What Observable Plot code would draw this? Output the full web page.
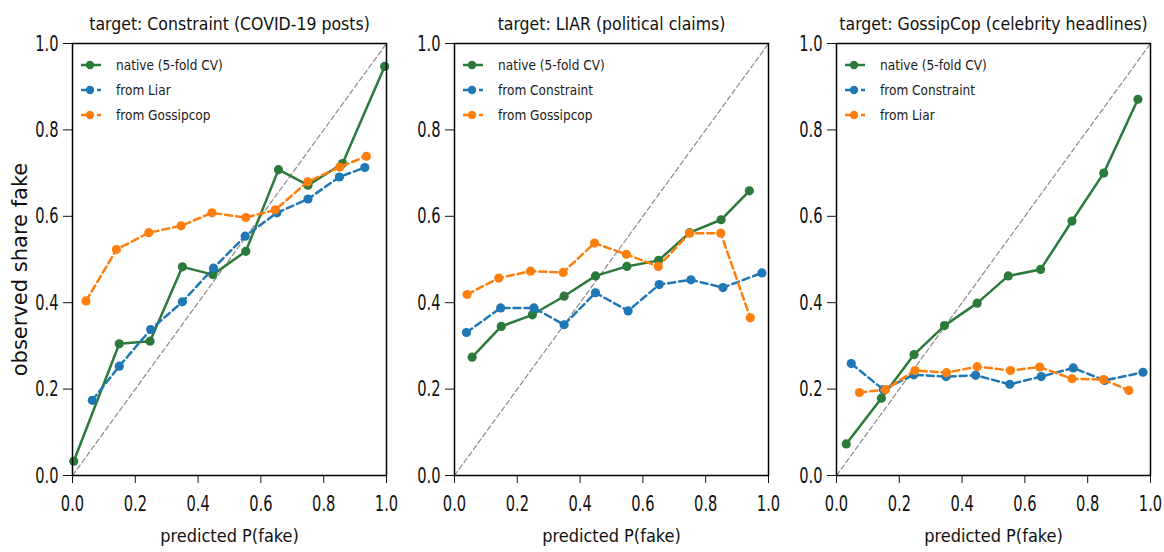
<!DOCTYPE html>
<html>
<head>
<meta charset="utf-8">
<script src="https://cdn.jsdelivr.net/npm/d3@7"></script>
<script src="https://cdn.jsdelivr.net/npm/@observablehq/plot@0.6"></script>
<style>
  html, body { margin: 0; padding: 0; background: #fff; }
  #wrap { position: relative; width: 1164px; height: 552px; overflow: hidden; background: #fff;
          font-family: "DejaVu Sans Condensed", "Liberation Sans Narrow", "DejaVu Sans", sans-serif; }
  .panel { position: absolute; top: 0; }
  .legend { position: absolute; font-size: 13.5px; color: #1a1a1a; }
  .legend .row { height: 25px; display: flex; align-items: center; white-space: nowrap; }
  .legend svg { display: block; margin-right: 6px; }
</style>
</head>
<body>
<div id="wrap"></div>
<script>
// ---------- data ----------
const titles = [
  "target: Constraint (COVID-19 posts)",
  "target: LIAR (political claims)",
  "target: GossipCop (celebrity headlines)"
];
const seriesNames = [
  ["native (5-fold CV)", "from Liar", "from Gossipcop"],
  ["native (5-fold CV)", "from Constraint", "from Gossipcop"],
  ["native (5-fold CV)", "from Constraint", "from Liar"]
];
const xLabel = "predicted P(fake)";
const yLabel = "observed share fake";
const tickValues = [0, 0.2, 0.4, 0.6, 0.8, 1.0];
const diagonal = [0, 1];

// Panel 1: target Constraint
const p1NativeX = [0.004, 0.149, 0.247, 0.350, 0.447, 0.552, 0.656, 0.750, 0.860, 0.994];
const p1NativeY = [0.033, 0.305, 0.311, 0.483, 0.465, 0.519, 0.708, 0.672, 0.722, 0.947];
const p1LiarX   = [0.063, 0.149, 0.249, 0.350, 0.449, 0.550, 0.651, 0.750, 0.850, 0.931];
const p1LiarY   = [0.174, 0.253, 0.338, 0.402, 0.480, 0.554, 0.608, 0.640, 0.691, 0.713];
const p1GossX   = [0.043, 0.140, 0.243, 0.346, 0.444, 0.552, 0.646, 0.749, 0.851, 0.936];
const p1GossY   = [0.404, 0.523, 0.562, 0.578, 0.608, 0.597, 0.615, 0.680, 0.714, 0.739];

// Panel 2: target LIAR
const p2NativeX = [0.056, 0.149, 0.248, 0.349, 0.449, 0.549, 0.650, 0.749, 0.849, 0.939];
const p2NativeY = [0.274, 0.345, 0.372, 0.415, 0.462, 0.484, 0.498, 0.562, 0.592, 0.659];
const p2ConsX   = [0.038, 0.147, 0.253, 0.349, 0.449, 0.553, 0.652, 0.753, 0.855, 0.979];
const p2ConsY   = [0.331, 0.388, 0.388, 0.349, 0.423, 0.381, 0.442, 0.453, 0.435, 0.469];
const p2GossX   = [0.040, 0.141, 0.242, 0.346, 0.446, 0.547, 0.649, 0.749, 0.848, 0.942];
const p2GossY   = [0.419, 0.457, 0.473, 0.470, 0.538, 0.512, 0.484, 0.561, 0.561, 0.365];

// Panel 3: target GossipCop
const p3NativeX = [0.031, 0.143, 0.247, 0.344, 0.448, 0.547, 0.650, 0.750, 0.851, 0.960];
const p3NativeY = [0.073, 0.179, 0.280, 0.347, 0.399, 0.462, 0.477, 0.589, 0.700, 0.871];
const p3ConsX   = [0.047, 0.149, 0.246, 0.349, 0.443, 0.552, 0.652, 0.754, 0.854, 0.976];
const p3ConsY   = [0.259, 0.199, 0.233, 0.229, 0.232, 0.211, 0.229, 0.249, 0.220, 0.239];
const p3LiarX   = [0.073, 0.156, 0.250, 0.350, 0.448, 0.554, 0.647, 0.750, 0.850, 0.931];
const p3LiarY   = [0.192, 0.199, 0.243, 0.238, 0.252, 0.243, 0.251, 0.224, 0.222, 0.197];

const seriesColors = ["#2b7a3a", "#1f77b4", "#ff7f0e"];
const seriesDash = [null, "7,4", "7,4"];

const panels = [
  { xs: [p1NativeX, p1LiarX, p1GossX], ys: [p1NativeY, p1LiarY, p1GossY] },
  { xs: [p2NativeX, p2ConsX, p2GossX], ys: [p2NativeY, p2ConsY, p2GossY] },
  { xs: [p3NativeX, p3ConsX, p3LiarX], ys: [p3NativeY, p3ConsY, p3LiarY] }
];

// ---------- layout ----------
const svgLefts = [0, 382, 764];
const mL = 72, mR = 2, mT = 43, mB = 77, W = 388, H = 552;
const condensed = "DejaVu Sans Condensed, Liberation Sans Narrow, DejaVu Sans, sans-serif";
const tickSquash = 0.74;

const wrap = document.getElementById("wrap");

panels.forEach((p, i) => {
  const marks = [
    Plot.line(diagonal, { x: d => d, y: d => d, stroke: "#8a8a8a", strokeWidth: 1.2, strokeDasharray: "5,3" })
  ];
  p.xs.forEach((xs, s) => {
    const data = xs.map((x, k) => ({ x, y: p.ys[s][k] }));
    marks.push(Plot.line(data, { x: "x", y: "y", stroke: seriesColors[s], strokeWidth: 2.5,
                                 strokeDasharray: seriesDash[s] }));
    marks.push(Plot.dot(data, { x: "x", y: "y", fill: seriesColors[s], r: 4.6 }));
  });
  marks.push(Plot.frame({ stroke: "#000", strokeWidth: 1.5 }));
  marks.push(Plot.text([titles[i]], { text: d => d, frameAnchor: "top", dy: -26, fontSize: 17.5, fill: "#111" }));
  marks.push(Plot.text([xLabel], { text: d => d, frameAnchor: "bottom", dy: 66, fontSize: 18, fill: "#111" }));
  if (i === 0) {
    marks.push(Plot.text([yLabel], { text: d => d, frameAnchor: "left", textAnchor: "middle", rotate: -90,
                                      dx: -52, dy: 10, fontSize: 21, fontFamily: "DejaVu Sans, sans-serif",
                                      fill: "#111" }));
  }

  const chart = Plot.plot({
    width: W, height: H,
    marginLeft: mL, marginRight: mR, marginTop: mT, marginBottom: mB,
    style: { background: "transparent", fontFamily: condensed, fontSize: "22px", color: "#111", overflow: "visible" },
    x: { domain: [0, 1], ticks: tickValues, tickFormat: d3.format(".1f"), tickSize: 8, tickPadding: 12, label: null },
    y: { domain: [0, 1], ticks: tickValues, tickFormat: d3.format(".1f"), tickSize: 9, tickPadding: 5, label: null },
    marks
  });
  chart.classList.add("panel");
  chart.style.left = svgLefts[i] + "px";

  // the reference's tick labels are tall and narrow: squash them horizontally in place
  chart.querySelectorAll('g[aria-label$="tick label"] text').forEach(t => {
    const tr = t.getAttribute("transform");
    if (tr) {
      t.setAttribute("transform", tr + ` scale(${tickSquash},1)`);
    } else if (t.hasAttribute("x")) {
      const x = +t.getAttribute("x");
      t.setAttribute("x", x / tickSquash);
      t.setAttribute("transform", `scale(${tickSquash},1)`);
    }
  });
  wrap.appendChild(chart);

  // legend (inside the top-left of the plot area)
  const lg = document.createElement("div");
  lg.className = "legend";
  lg.style.left = (svgLefts[i] + mL + 8) + "px";
  lg.style.top = (mT + 9) + "px";
  seriesNames[i].forEach((name, s) => {
    const row = document.createElement("div");
    row.className = "row";
    const dash = seriesDash[s] ? `stroke-dasharray="5,3"` : "";
    row.innerHTML =
      `<svg width="30" height="12"><line x1="1" y1="6" x2="21" y2="6" stroke="${seriesColors[s]}" stroke-width="2.5" ${dash}/>` +
      `<circle cx="10" cy="6" r="4.2" fill="${seriesColors[s]}"/></svg><span>${name}</span>`;
    lg.appendChild(row);
  });
  wrap.appendChild(lg);
});
</script>
</body>
</html>
